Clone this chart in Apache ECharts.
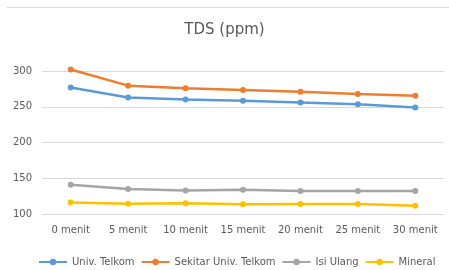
<!DOCTYPE html>
<html><head><meta charset="utf-8">
<script src="https://cdn.jsdelivr.net/npm/echarts@6/dist/echarts.min.js"></script>
<style>html,body{margin:0;padding:0;background:#fff}#c{width:449px;height:270px}</style>
</head><body><div id="c"></div>
<script>
var categories = ['0 menit','5 menit','10 menit','15 menit','20 menit','25 menit','30 menit'];
var univTelkom = [277, 263, 260, 258.5, 256, 253.5, 249];
var sekitarUnivTelkom = [302, 279.5, 276, 273.5, 271, 268, 265.5];
var isiUlang = [141, 135, 133, 134, 132, 132, 132];
var mineral = [116, 114.5, 115, 113.5, 114, 114, 111.5];
var seriesNames = ['Univ. Telkom','Sekitar Univ. Telkom','Isi Ulang','Mineral'];
var colors = ['#5B9BD5','#ED7D31','#A5A5A5','#FFC000'];
var values = [univTelkom, sekitarUnivTelkom, isiUlang, mineral];
var FONT = 'DejaVu Sans';

var chart = echarts.init(document.getElementById('c'), null, {renderer:'canvas'});
chart.setOption({
  animation:false,
  color: colors,
  title:{text:'TDS (ppm)', left:'center', top:18, textStyle:{fontFamily:FONT, fontSize:15, fontWeight:'normal', color:'#595959'}},
  graphic:[{type:'line', shape:{x1:7,y1:7.5,x2:449,y2:7.5}, style:{stroke:'#d9d9d9', lineWidth:1}}],
  legend:{top:252, left:33, itemWidth:28, itemHeight:8, itemGap:6,
    textStyle:{fontFamily:FONT, fontSize:10, color:'#595959'}, data:seriesNames},
  grid:{left:42, right:5, top:71, bottom:56},
  xAxis:{type:'category', data:categories, boundaryGap:true,
    axisLine:{lineStyle:{color:'#d9d9d9'}}, axisTick:{show:false},
    axisLabel:{interval:0, fontFamily:FONT, fontSize:10, color:'#595959', margin:11}},
  yAxis:{type:'value', min:100, max:300, interval:50,
    axisLine:{show:false}, axisTick:{show:false},
    axisLabel:{fontFamily:FONT, fontSize:10, color:'#595959', margin:10},
    splitLine:{lineStyle:{color:'#d9d9d9'}}},
  series: seriesNames.map(function(n,i){return {name:n, type:'line', data:values[i], symbol:'circle', symbolSize:6, clip:false,
    lineStyle:{width:2.5, color:colors[i]}, itemStyle:{color:colors[i]}};})
});
</script></body></html>
